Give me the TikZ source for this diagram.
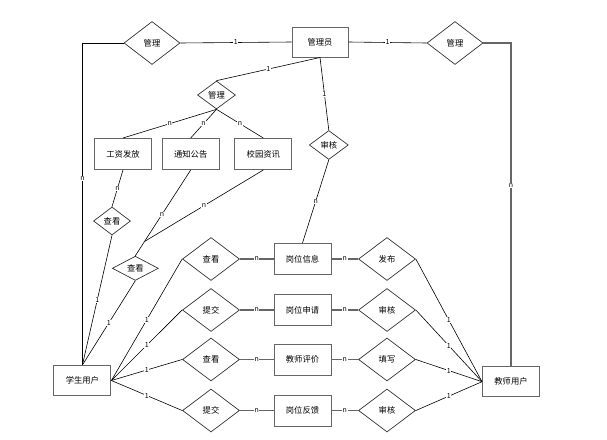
\documentclass[tikz,border=0pt]{standalone}
\usepackage{fontspec}
\newfontfamily\cjk{Noto Sans CJK SC}
\usetikzlibrary{shapes.geometric}
\begin{document}
\begin{tikzpicture}[x=1pt,y=-1pt]
\tikzset{ ent/.style={draw=black!60, line width=1pt, minimum width=57pt, minimum height=31pt, inner sep=0pt, font=\cjk\fontsize{8.3}{10}\selectfont},
          rel/.style={diamond, draw=black!80, line width=0.7pt, inner sep=0pt, minimum width=56pt, minimum height=43pt, font=\cjk\fontsize{8.3}{10}\selectfont},
          srel/.style={rel, minimum width=38pt, minimum height=28pt},
          lbl/.style={fill=white, inner sep=0.6pt, font=\cjk\fontsize{7}{8}\selectfont},
          lnk/.style={draw=black, line width=0.6pt},
          glnk/.style={draw=black!60, line width=1.1pt} }

\useasboundingbox (0,0) rectangle (607,439);

%\draw [lightgray, dashed](0,0) grid[step=50] (607,439);

% top row
\node [rel] (glL) at (152,43) {管理};
\node [ent, minimum width=56pt, minimum height=30pt] (adm) at (320,42) {管理员};
\node [rel] (glR) at (455,43) {管理};

% notices
\node [srel] (glM) at (216.5,95) {管理};
\node [ent] (gz) at (123,154) {工资发放};
\node [ent] (tz) at (190.7,154) {通知公告};
\node [ent] (xy) at (263.3,154) {校园资讯};
\node [srel, minimum width=37pt] (ckA) at (112,221) {查看};
\node [srel, minimum width=46pt, minimum height=22pt] (ckB) at (135.3,268.3) {查看};
\coordinate (jn) at (144.5,241.5);
\node [srel, minimum width=39pt, minimum height=29pt] (shT) at (328.8,145) {审核};

% users
\node [ent, minimum height=30pt] (stu) at (82.4,380.5) {学生用户};
\node [ent, minimum height=30pt] (tea) at (511,381.7) {教师用户};

% rows
\node [rel, minimum width=57pt] (ck1) at (211,259)   {查看};
\node [ent]                     (xx)  at (302.5,259) {岗位信息};
\node [rel, minimum width=57pt] (fb)  at (387,259)   {发布};

\node [rel, minimum width=57pt] (tj1) at (211,310)   {提交};
\node [ent]                     (sq)  at (302.5,310) {岗位申请};
\node [rel, minimum width=57pt] (sh1) at (387,310)   {审核};

\node [rel, minimum width=57pt] (ck2) at (211,359.5)   {查看};
\node [ent]                     (pj)  at (302.5,359.5) {教师评价};
\node [rel, minimum width=57pt] (tx)  at (387,359.5)   {填写};

\node [rel, minimum width=57pt] (tj2) at (211,410.5)   {提交};
\node [ent]                     (fk)  at (302.5,410.5) {岗位反馈};
\node [rel, minimum width=57pt] (sh2) at (387,410.5)   {审核};

% admin links
\draw [lnk] (glL.east) -- node[lbl]{1} (adm.west);
\draw [lnk] (adm.east) -- node[lbl]{1} (glR.west);
\draw [lnk] (glL.west) -| node[lbl, pos=.71]{n} (stu.north);
\draw [glnk] (glR.east) -| node[lbl, pos=.72]{n} (tea.north);
\draw [lnk] (adm.south) -- node[lbl]{1} (glM.north);
\draw [lnk] (adm.south) -- node[lbl]{1} (shT.north);
\draw [lnk] (shT.south) -- node[lbl]{n} (xx.north);

\draw [lnk] (glM.south) -- node[lbl]{n} (gz.north);
\draw [lnk] (glM.south) -- node[lbl]{n} (tz.north);
\draw [lnk] (glM.south) -- node[lbl]{n} (xy.north);

\draw [lnk] (gz.south) -- node[lbl]{n} (ckA.north);
\draw [lnk] (tz.south) -- node[lbl, pos=.62]{n} (jn);
\draw [lnk] (xy.south) -- node[lbl, pos=.5]{n} (jn);
\draw [lnk] (jn) -- (ckB.north);
\draw [lnk] (ckA.south) -- node[lbl]{1} (stu.north);
\draw [lnk] (ckB.south) -- node[lbl]{1} (stu.north);

% student side
\draw [lnk] (stu.east) -- node[lbl]{1} (ck1.west);
\draw [lnk] (stu.east) -- node[lbl]{1} (tj1.west);
\draw [lnk] (stu.east) -- node[lbl]{1} (ck2.west);
\draw [lnk] (stu.east) -- node[lbl]{1} (tj2.west);

% rows
\draw [glnk] (ck1.east) -- node[lbl]{n} (xx.west);
\draw [glnk] (xx.east)  -- node[lbl]{n} (fb.west);
\draw [glnk] (tj1.east) -- node[lbl]{n} (sq.west);
\draw [glnk] (sq.east)  -- node[lbl]{n} (sh1.west);
\draw [glnk] (ck2.east) -- node[lbl]{n} (pj.west);
\draw [glnk] (pj.east)  -- node[lbl]{n} (tx.west);
\draw [glnk] (tj2.east) -- node[lbl]{n} (fk.west);
\draw [glnk] (fk.east)  -- node[lbl]{n} (sh2.west);

% teacher side
\draw [lnk] (fb.east)  -- node[lbl]{1} (tea.west);
\draw [lnk] (sh1.east) -- node[lbl]{1} (tea.west);
\draw [lnk] (tx.east)  -- node[lbl]{1} (tea.west);
\draw [lnk] (sh2.east) -- node[lbl]{1} (tea.west);

\end{tikzpicture}
\end{document}
